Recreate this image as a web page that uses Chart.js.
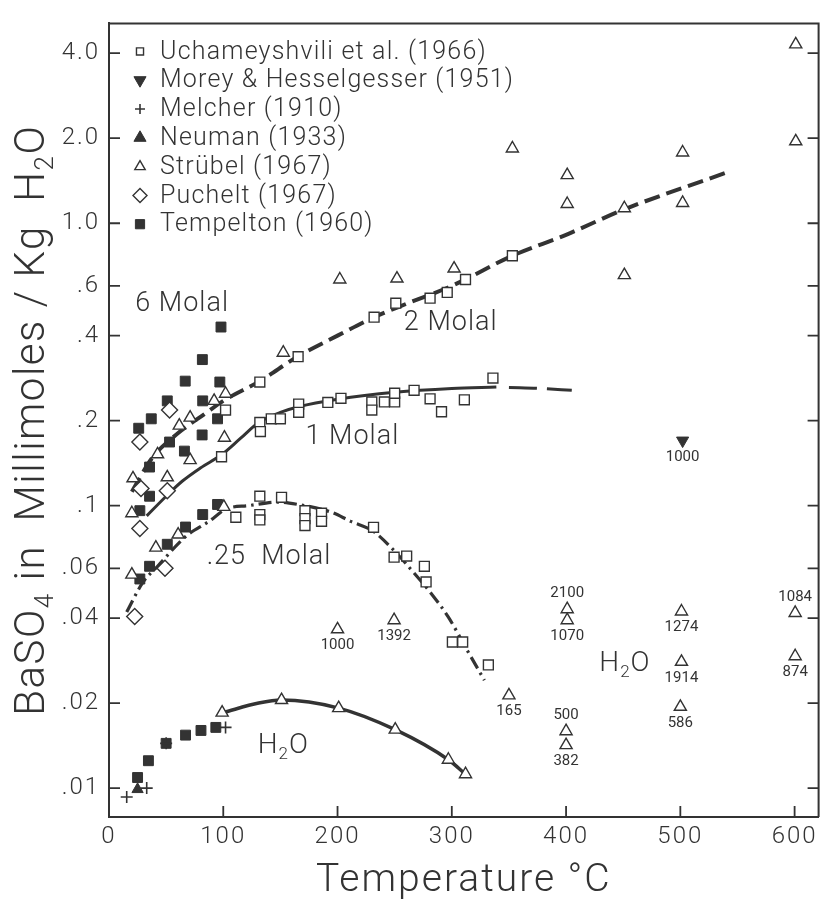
<!DOCTYPE html>
<html><head><meta charset="utf-8">
<script src="https://cdn.jsdelivr.net/npm/chart.js@4.4.1/dist/chart.umd.min.js"></script>
<style>html,body{margin:0;padding:0;background:#fff}#wrap{width:828px;height:905px}</style>
</head><body><div id="wrap"><canvas id="c" width="828" height="905"></canvas></div>
<script>
// ---------- axis ticks ----------
const yTickValues = [0.01, 0.02, 0.04, 0.06, 0.1, 0.2, 0.4, 0.6, 1, 2, 4];
const yTickLabels = ['.01', '.02', '.04', '.06', '.1', '.2', '.4', '.6', '1.0', '2.0', '4.0'];
const xTickValues = [0, 100, 200, 300, 400, 500, 600];

// ---------- measured points (T in °C, BaSO4 in mmol/kg H2O) ----------
const uchT = [102,132,165.5,232,251,281,296,312,353, 98.5,132,132.5,142,150,166,166,191.5,203,230,230,241,250,250,267,281,291,311,336, 111,132,132,132,151,171.5,171.5,171.5,186,186,231.5,249.5,260.5,276,277.5,300.5,309.5,332];
const uchV = [0.218,0.274,0.337,0.465,0.521,0.543,0.569,0.632,0.767, 0.149,0.197,0.183,0.203,0.203,0.229,0.214,0.232,0.24,0.233,0.218,0.233,0.233,0.25,0.256,0.239,0.215,0.237,0.283, 0.091,0.108,0.093,0.089,0.107,0.096,0.090,0.085,0.094,0.088,0.0838,0.0657,0.0663,0.061,0.0537,0.0329,0.0329,0.0273];

const morT = [502];
const morV = [0.170];
const morLabel = ['1000'];

const melT = [15.5, 33, 50, 102];
const melV = [0.0093, 0.0100, 0.0144, 0.0164];

const neuT = [25];
const neuV = [0.0099];

const strT = [21,42.5,51,61.5,71,71,92,101,102,152.5,202,252,302,353,401,401,451,451,502,502,601,601, 20,41,60.5,100.5,20, 99,151,201,250.5,297,312];
const strV = [0.125,0.152,0.126,0.192,0.205,0.145,0.235,0.174,0.249,0.348,0.632,0.637,0.691,1.84,1.48,1.17,1.13,0.655,1.78,1.18,4.3,1.95, 0.094,0.071,0.079,0.099,0.057, 0.0185,0.0205,0.0192,0.0161,0.0126,0.0112];
// Strübel pure-water points annotated with pressure labels
const strLabT = [200, 249.5, 350, 401, 401, 400, 400, 501, 501, 500, 600.5, 600.5];
const strLabV = [0.0365, 0.0393, 0.0213, 0.043, 0.0393, 0.0159, 0.0142, 0.0422, 0.028, 0.0194, 0.0417, 0.0293];
const strLabText = ['1000', '1392', '165', '2100', '1070', '500', '382', '1274', '1914', '586', '1084', '874'];
const strLabAbove = [false, false, false, true, false, true, false, false, false, false, true, false];

const pucT = [53, 27, 28, 51, 27, 49, 22.5];
const pucV = [0.218, 0.168, 0.115, 0.113, 0.083, 0.060, 0.0405];

const tmpT = [98,81.7,66.7,97,82,51,95,37,26,81.5,53,66,35.5,35.5,27, 95,82,67,51,35.5,27, 93.5,80.5,67,50,34.5,25];
const tmpV = [0.429,0.329,0.276,0.274,0.235,0.235,0.203,0.203,0.188,0.178,0.168,0.156,0.137,0.108,0.096, 0.101,0.093,0.084,0.073,0.061,0.055, 0.0164,0.016,0.0154,0.0144,0.0125,0.0109];

// ---------- fitted curves ----------
const m2T = [20,38,60,85,100,132,165,200,232,260,300,353,400,451,542];
const m2V = [0.112,0.148,0.180,0.213,0.235,0.276,0.337,0.40,0.465,0.518,0.60,0.767,0.91,1.12,1.52];
const m1T = [33,50,64,80,99,115,131,150,166,200,250,300,339];
const m1V = [0.092,0.108,0.122,0.136,0.152,0.173,0.197,0.214,0.224,0.238,0.252,0.26,0.263];
const m1xT = [350, 378, 405];
const m1xV = [0.262, 0.260, 0.256];
const m025T = [15.5,29.5,42.5,67.5,87.5,103,122,148,165.5,194,211.5,231.5,249.5,265,281,297,313,328.5];
const m025V = [0.042,0.0534,0.061,0.078,0.088,0.0975,0.100,0.103,0.101,0.095,0.088,0.081,0.0693,0.059,0.0494,0.0403,0.031,0.0241];
const h2oT = [100, 131, 151, 201, 250.5, 297, 312];
const h2oV = [0.0185, 0.0200, 0.0205, 0.0192, 0.0161, 0.0126, 0.0112];

// ---------- curve captions (anchored in data units) ----------
const curveLabelText = ['6 Molal', '2 Molal', '1 Molal', '.25  Molal', 'H2O', 'H2O'];
const curveLabelT = [64, 299, 213, 140, 152.5, 451.5];
const curveLabelV = [0.517, 0.443, 0.174, 0.0654, 0.0141, 0.0276];

// ---------- rendering ----------
const INK = '#333333';
const FONT = 'Roboto, "Liberation Sans", "DejaVu Sans", sans-serif';

const pts = (T, V) => T.map((t, i) => ({x: t, y: V[i]}));

const seriesDefs = [
  {label: 'Uchameyshvili et al. (1966)', data: pts(uchT, uchV), style: 'rect', r: 7, fill: '#fff', bw: 1.4, rot: 0, lr: 5},
  {label: 'Morey & Hesselgesser (1951)', data: pts(morT, morV), style: 'triangle', r: 7, fill: INK, bw: 1, rot: 180, lr: 7},
  {label: 'Melcher (1910)', data: pts(melT, melV), style: 'cross', r: 6, fill: INK, bw: 1.6, rot: 0, lr: 5},
  {label: 'Neuman (1933)', data: pts(neuT, neuV), style: 'triangle', r: 6.5, fill: INK, bw: 1, rot: 0, lr: 7},
  {label: 'Str\u00fcbel (1967)', data: pts(strT.concat(strLabT), strV.concat(strLabV)), style: 'triangle', r: 7, fill: '#fff', bw: 1.4, rot: 0, lr: 6},
  {label: 'Puchelt (1967)', data: pts(pucT, pucV), style: 'rectRot', r: 8, fill: '#fff', bw: 1.4, rot: 0, lr: 7},
  {label: 'Tempelton (1960)', data: pts(tmpT, tmpV), style: 'rect', r: 7, fill: INK, bw: 1, rot: 0, lr: 6.5}
];

const datasets = seriesDefs.map(s => ({
  label: s.label, data: s.data, order: 1, showLine: false,
  pointStyle: s.style, pointRadius: s.r, pointRotation: s.rot,
  pointBackgroundColor: s.fill, pointBorderColor: INK, pointBorderWidth: s.bw
}));

const curve = (T, V, width, dash) => ({
  label: '', data: pts(T, V), order: 10, showLine: true, pointRadius: 0,
  borderColor: INK, borderWidth: width, borderDash: dash, borderCapStyle: 'butt',
  cubicInterpolationMode: 'monotone', fill: false
});
datasets.push(curve(m2T, m2V, 4, [16, 7]));
datasets.push(curve(m1T, m1V, 3, []));
datasets.push(curve(m1xT, m1xV, 3, [28, 10]));
datasets.push(curve(m025T, m025V, 3.2, [13, 5, 2.5, 5]));
datasets.push(curve(h2oT, h2oV, 3.5, []));

function drawSubText(ctx, parts, size, x, y) {
  // parts: [text, isSub]; centred at x,y (textBaseline middle)
  const big = '300 ' + size + 'px ' + FONT, small = '300 ' + Math.round(size * 0.62) + 'px ' + FONT;
  let w = 0;
  parts.forEach(p => { ctx.font = p[1] ? small : big; w += ctx.measureText(p[0]).width; });
  let cx = x - w / 2;
  ctx.textAlign = 'left';
  parts.forEach(p => {
    ctx.font = p[1] ? small : big;
    ctx.fillText(p[0], cx, p[1] ? y + size * 0.32 : y);
    cx += ctx.measureText(p[0]).width;
  });
}

const decor = {
  id: 'decor',
  beforeDraw(chart) {
    // wide-spaced lettering, as in the stencilled original
    chart.ctx.letterSpacing = '2px';
  },
  afterDraw(chart) {
    const {ctx, chartArea: a, scales: {x, y}} = chart;
    ctx.save();
    ctx.strokeStyle = INK;
    ctx.fillStyle = INK;
    // frame (top + right)
    ctx.lineWidth = 2;
    ctx.beginPath();
    ctx.moveTo(a.left, a.top); ctx.lineTo(a.right, a.top); ctx.lineTo(a.right, a.bottom);
    ctx.stroke();
    // inward tick marks
    ctx.lineWidth = 1.8;
    ctx.beginPath();
    y.ticks.forEach(t => {
      const py = y.getPixelForValue(t.value);
      ctx.moveTo(a.left, py); ctx.lineTo(a.left + 11, py);
      ctx.moveTo(a.right, py); ctx.lineTo(a.right - 11, py);
    });
    x.ticks.forEach(t => {
      const px = x.getPixelForValue(t.value);
      ctx.moveTo(px, a.bottom); ctx.lineTo(px, a.bottom - 11);
    });
    ctx.stroke();

    // pressure labels on the water points
    ctx.letterSpacing = '0px';
    ctx.font = '400 15px ' + FONT;
    ctx.textAlign = 'center';
    ctx.textBaseline = 'middle';
    strLabText.forEach((txt, i) => {
      const px = x.getPixelForValue(strLabT[i]), py = y.getPixelForValue(strLabV[i]);
      ctx.fillText(txt, px, py + (strLabAbove[i] ? -16 : 16));
    });
    morLabel.forEach((txt, i) => {
      ctx.fillText(txt, x.getPixelForValue(morT[i]), y.getPixelForValue(morV[i]) + 17);
    });

    // curve captions
    ctx.letterSpacing = '1px';
    curveLabelText.forEach((txt, i) => {
      const px = x.getPixelForValue(curveLabelT[i]), py = y.getPixelForValue(curveLabelV[i]);
      if (txt === 'H2O') drawSubText(ctx, [['H', 0], ['2', 1], ['O', 0]], 28, px, py);
      else { ctx.font = '300 27px ' + FONT; ctx.textAlign = 'center'; ctx.fillText(txt, px, py); }
    });

    // legend (inside plot, top-left)
    const H = Chart.helpers;
    seriesDefs.forEach((s, i) => {
      const ly = a.top + 28 + i * 28.8;
      ctx.fillStyle = s.fill; ctx.strokeStyle = INK; ctx.lineWidth = s.bw;
      H.drawPoint(ctx, {pointStyle: s.style, radius: s.lr, rotation: s.rot, borderWidth: s.bw}, a.left + 31, ly);
      ctx.fillStyle = INK;
      ctx.letterSpacing = '1.2px';
      ctx.font = '300 25px ' + FONT;
      ctx.textAlign = 'left';
      ctx.textBaseline = 'middle';
      ctx.fillText(s.label, a.left + 51, ly + 1);
    });

    // y-axis title with subscripts, rotated
    ctx.translate(33, (a.top + a.bottom) / 2);
    ctx.rotate(-Math.PI / 2);
    ctx.fillStyle = INK;
    ctx.textBaseline = 'middle';
    ctx.letterSpacing = '1.5px';
    drawSubText(ctx, [['BaSO', 0], ['4', 1], [' in  Millimoles / Kg  H', 0], ['2', 1], ['O', 0]], 42, 0, 0);
    ctx.restore();
    ctx.letterSpacing = '0px';
  }
};

new Chart(document.getElementById('c'), {
  type: 'scatter',
  data: {datasets},
  options: {
    responsive: false, animation: false, devicePixelRatio: 1,
    layout: {padding: {top: 14, right: 2, left: 0, bottom: 0}},
    plugins: {legend: {display: false}, tooltip: {enabled: false}},
    scales: {
      x: {
        type: 'linear', min: 0, max: 621,
        afterBuildTicks: s => { s.ticks = xTickValues.map(v => ({value: v})); },
        afterFit: s => { s.height = 88; },
        grid: {display: false, drawTicks: false},
        border: {display: true, color: INK, width: 2},
        ticks: {color: INK, padding: 6, font: {family: FONT, size: 24, weight: 300}, maxRotation: 0},
        title: {display: true, text: 'Temperature \u00b0C', color: INK, padding: {top: 0, bottom: 0},
                font: {family: FONT, size: 39, weight: 300}}
      },
      y: {
        type: 'logarithmic', min: 0.0079, max: 5.1,
        afterBuildTicks: s => { s.ticks = yTickValues.map(v => ({value: v})); },
        afterFit: s => { s.width = 109; },
        grid: {display: false, drawTicks: false},
        border: {display: true, color: INK, width: 2},
        ticks: {color: INK, padding: 9, font: {family: FONT, size: 24, weight: 300},
                callback: v => { const i = yTickValues.findIndex(t => Math.abs(t - v) < 1e-9); return i >= 0 ? yTickLabels[i] : ''; }}
      }
    }
  },
  plugins: [decor]
});
</script></body></html>
